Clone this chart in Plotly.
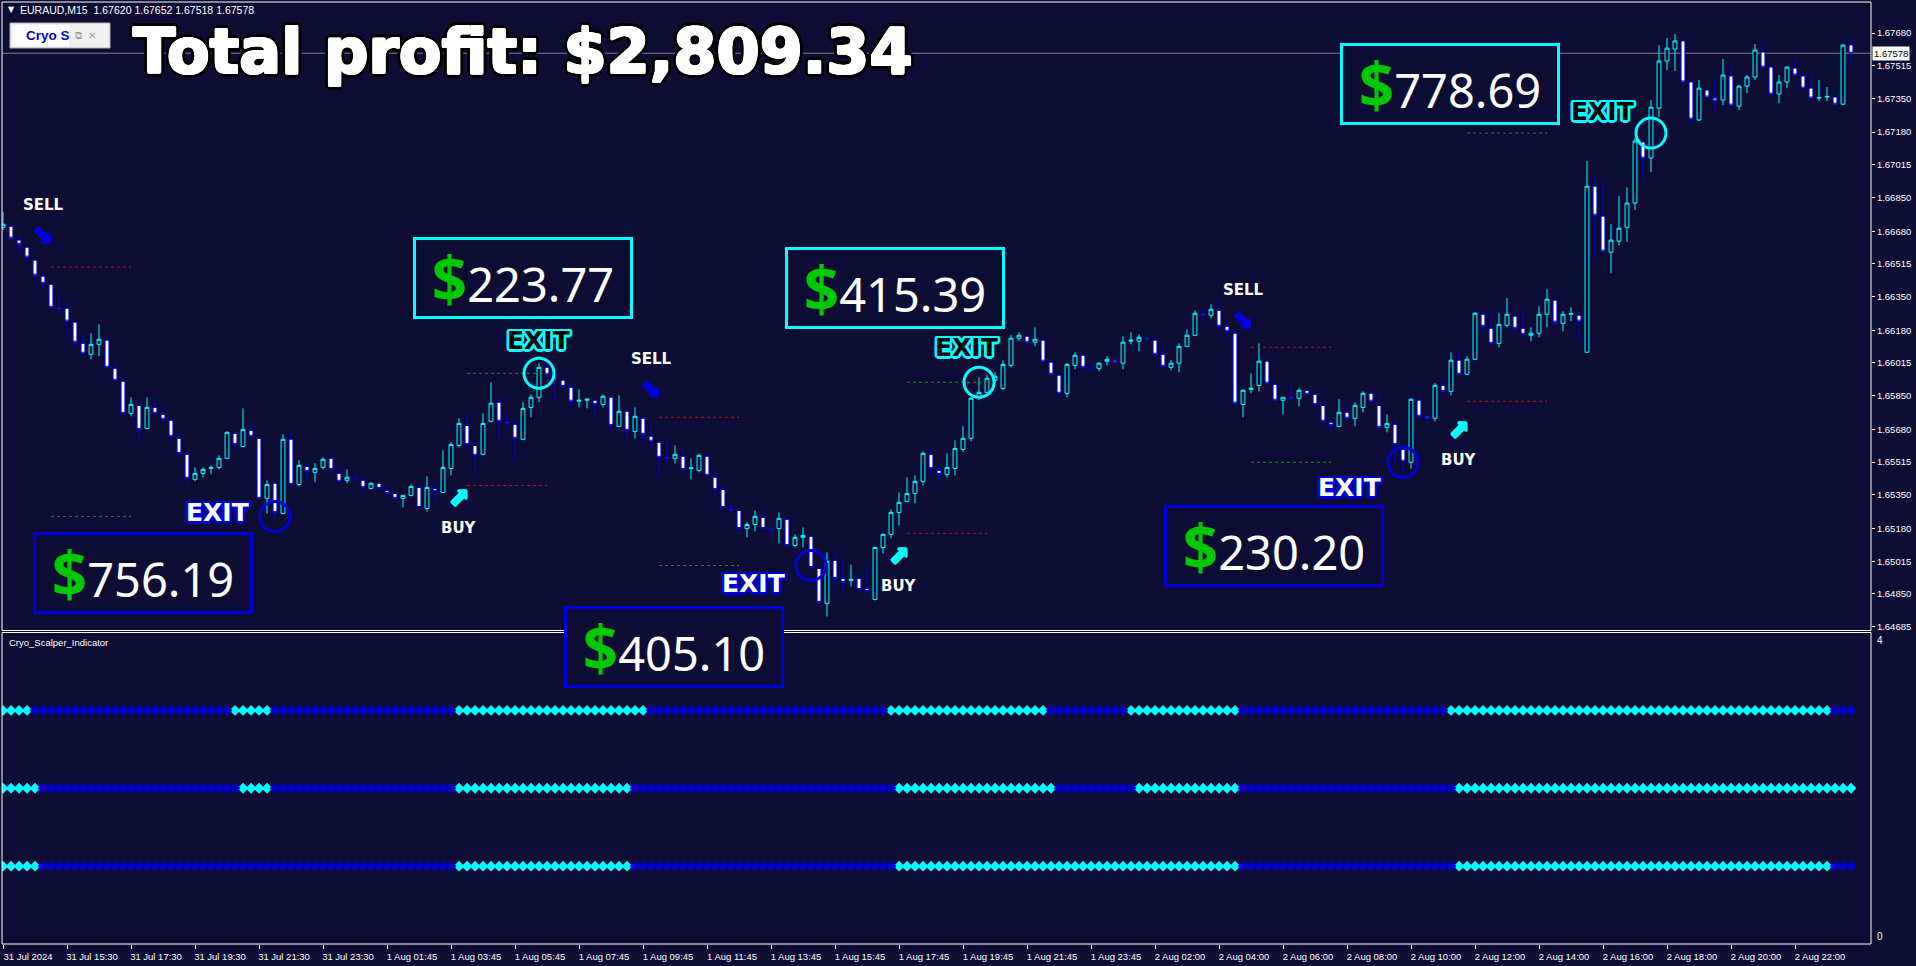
import math
import plotly.graph_objects as go

# ---------------- DATA ----------------
time_labels = ["31 Jul 2024", "31 Jul 15:30", "31 Jul 17:30", "31 Jul 19:30", "31 Jul 21:30", "31 Jul 23:30",
               "1 Aug 01:45", "1 Aug 03:45", "1 Aug 05:45", "1 Aug 07:45", "1 Aug 09:45", "1 Aug 11:45",
               "1 Aug 13:45", "1 Aug 15:45", "1 Aug 17:45", "1 Aug 19:45", "1 Aug 21:45", "1 Aug 23:45",
               "2 Aug 02:00", "2 Aug 04:00", "2 Aug 06:00", "2 Aug 08:00", "2 Aug 10:00", "2 Aug 12:00",
               "2 Aug 14:00", "2 Aug 16:00", "2 Aug 18:00", "2 Aug 20:00", "2 Aug 22:00"]
bars_per_label = 8

price_ticks = [1.67680, 1.67515, 1.67350, 1.67180, 1.67015, 1.66850, 1.66680, 1.66515, 1.66350, 1.66180,
               1.66015, 1.65850, 1.65680, 1.65515, 1.65350, 1.65180, 1.65015, 1.64850, 1.64685]

ohlc = [
    (1.66700, 1.66776, 1.66685, 1.66715), (1.66705, 1.66726, 1.66640, 1.66645), (1.66635, 1.66660, 1.66569, 1.66614),
    (1.66599, 1.66609, 1.66524, 1.66549), (1.66534, 1.66539, 1.66453, 1.66458), (1.66453, 1.66463, 1.66387, 1.66417),
    (1.66412, 1.66417, 1.66291, 1.66296), (1.66291, 1.66362, 1.66266, 1.66286), (1.66291, 1.66322, 1.66165, 1.66226),
    (1.66221, 1.66221, 1.66094, 1.66120), (1.66114, 1.66155, 1.66039, 1.66064), (1.66059, 1.66165, 1.66034, 1.66109),
    (1.66109, 1.66210, 1.66049, 1.66135), (1.66130, 1.66135, 1.65993, 1.65993), (1.65988, 1.66014, 1.65923, 1.65928),
    (1.65923, 1.65928, 1.65761, 1.65761), (1.65761, 1.65842, 1.65746, 1.65806), (1.65801, 1.65827, 1.65630, 1.65680),
    (1.65685, 1.65842, 1.65680, 1.65791), (1.65791, 1.65842, 1.65761, 1.65761), (1.65756, 1.65796, 1.65726, 1.65731),
    (1.65726, 1.65731, 1.65610, 1.65645), (1.65635, 1.65660, 1.65554, 1.65559), (1.65554, 1.65574, 1.65397, 1.65433),
    (1.65428, 1.65488, 1.65418, 1.65458), (1.65458, 1.65488, 1.65438, 1.65478), (1.65483, 1.65498, 1.65453, 1.65488),
    (1.65488, 1.65549, 1.65478, 1.65534), (1.65534, 1.65670, 1.65529, 1.65665), (1.65660, 1.65665, 1.65574, 1.65604),
    (1.65594, 1.65786, 1.65589, 1.65680), (1.65675, 1.65721, 1.65640, 1.65645), (1.65635, 1.65640, 1.65327, 1.65332),
    (1.65332, 1.65423, 1.65256, 1.65402), (1.65408, 1.65408, 1.65231, 1.65261), (1.65256, 1.65655, 1.65251, 1.65630),
    (1.65630, 1.65665, 1.65392, 1.65402), (1.65402, 1.65524, 1.65392, 1.65498), (1.65493, 1.65509, 1.65408, 1.65468),
    (1.65463, 1.65509, 1.65413, 1.65483), (1.65488, 1.65539, 1.65478, 1.65529), (1.65534, 1.65539, 1.65463, 1.65478),
    (1.65458, 1.65488, 1.65413, 1.65418), (1.65423, 1.65478, 1.65408, 1.65438), (1.65433, 1.65448, 1.65408, 1.65433),
    (1.65423, 1.65443, 1.65372, 1.65387), (1.65382, 1.65413, 1.65377, 1.65408), (1.65408, 1.65413, 1.65377, 1.65382),
    (1.65372, 1.65392, 1.65357, 1.65357), (1.65357, 1.65367, 1.65332, 1.65332), (1.65332, 1.65347, 1.65286, 1.65347),
    (1.65347, 1.65402, 1.65342, 1.65392), (1.65387, 1.65392, 1.65286, 1.65286), (1.65281, 1.65443, 1.65266, 1.65387),
    (1.65382, 1.65413, 1.65312, 1.65367), (1.65362, 1.65574, 1.65362, 1.65488), (1.65483, 1.65615, 1.65448, 1.65604),
    (1.65599, 1.65736, 1.65589, 1.65710), (1.65700, 1.65761, 1.65599, 1.65604), (1.65599, 1.65625, 1.65453, 1.65549),
    (1.65554, 1.65761, 1.65549, 1.65710), (1.65721, 1.65918, 1.65716, 1.65812), (1.65817, 1.65837, 1.65610, 1.65721),
    (1.65716, 1.65766, 1.65685, 1.65710), (1.65705, 1.65726, 1.65524, 1.65635), (1.65630, 1.65817, 1.65625, 1.65786),
    (1.65791, 1.65857, 1.65741, 1.65842), (1.65842, 1.66014, 1.65817, 1.65993), (1.65993, 1.65998, 1.65938, 1.65958),
    (1.65943, 1.65963, 1.65827, 1.65933), (1.65928, 1.65943, 1.65887, 1.65897), (1.65892, 1.65907, 1.65791, 1.65822),
    (1.65822, 1.65882, 1.65791, 1.65827), (1.65827, 1.65837, 1.65786, 1.65832), (1.65827, 1.65837, 1.65741, 1.65806),
    (1.65806, 1.65857, 1.65791, 1.65847), (1.65842, 1.65847, 1.65675, 1.65700), (1.65695, 1.65852, 1.65690, 1.65771),
    (1.65771, 1.65776, 1.65625, 1.65675), (1.65670, 1.65791, 1.65635, 1.65746), (1.65736, 1.65746, 1.65610, 1.65655),
    (1.65645, 1.65705, 1.65589, 1.65620), (1.65615, 1.65620, 1.65443, 1.65539), (1.65539, 1.65625, 1.65498, 1.65534),
    (1.65534, 1.65599, 1.65509, 1.65554), (1.65544, 1.65584, 1.65473, 1.65478), (1.65483, 1.65534, 1.65428, 1.65485),
    (1.65473, 1.65559, 1.65463, 1.65549), (1.65544, 1.65549, 1.65448, 1.65448), (1.65438, 1.65478, 1.65347, 1.65377),
    (1.65377, 1.65397, 1.65271, 1.65286), (1.65281, 1.65301, 1.65261, 1.65271), (1.65271, 1.65276, 1.65150, 1.65180),
    (1.65180, 1.65211, 1.65135, 1.65200), (1.65200, 1.65271, 1.65165, 1.65241), (1.65236, 1.65281, 1.65175, 1.65180),
    (1.65180, 1.65180, 1.65135, 1.65175), (1.65180, 1.65261, 1.65104, 1.65231), (1.65226, 1.65231, 1.65089, 1.65094),
    (1.65094, 1.65150, 1.65084, 1.65135), (1.65135, 1.65185, 1.65084, 1.65145), (1.65140, 1.65145, 1.64978, 1.64983),
    (1.64978, 1.64983, 1.64802, 1.64807), (1.64802, 1.65059, 1.64736, 1.65014), (1.65019, 1.65054, 1.64892, 1.64928),
    (1.64928, 1.65029, 1.64852, 1.64908), (1.64918, 1.64998, 1.64887, 1.64923), (1.64928, 1.64958, 1.64872, 1.64872),
    (1.64877, 1.64993, 1.64842, 1.64862), (1.64822, 1.65089, 1.64817, 1.65084), (1.65084, 1.65155, 1.65054, 1.65150),
    (1.65150, 1.65276, 1.65130, 1.65261), (1.65261, 1.65362, 1.65195, 1.65312), (1.65317, 1.65438, 1.65312, 1.65357),
    (1.65357, 1.65448, 1.65307, 1.65418), (1.65418, 1.65569, 1.65397, 1.65559), (1.65554, 1.65589, 1.65448, 1.65483),
    (1.65473, 1.65503, 1.65413, 1.65453), (1.65453, 1.65559, 1.65438, 1.65488), (1.65483, 1.65625, 1.65448, 1.65584),
    (1.65579, 1.65695, 1.65564, 1.65635), (1.65635, 1.65842, 1.65620, 1.65837), (1.65842, 1.65943, 1.65827, 1.65867),
    (1.65867, 1.65953, 1.65862, 1.65938), (1.65928, 1.65968, 1.65913, 1.65948), (1.65887, 1.66029, 1.65877, 1.66008),
    (1.66003, 1.66155, 1.65993, 1.66140), (1.66140, 1.66170, 1.66125, 1.66155), (1.66150, 1.66155, 1.66099, 1.66120),
    (1.66120, 1.66195, 1.66099, 1.66135), (1.66130, 1.66135, 1.66019, 1.66024), (1.66019, 1.66029, 1.65953, 1.65958),
    (1.65953, 1.65963, 1.65857, 1.65862), (1.65862, 1.66014, 1.65842, 1.66008), (1.66003, 1.66069, 1.65983, 1.66054),
    (1.66054, 1.66059, 1.65973, 1.65993), (1.65988, 1.66019, 1.65983, 1.65986), (1.65988, 1.66019, 1.65973, 1.66014),
    (1.66024, 1.66049, 1.66003, 1.66034), (1.66029, 1.66034, 1.66014, 1.66019), (1.66014, 1.66150, 1.65983, 1.66120),
    (1.66125, 1.66170, 1.66109, 1.66130), (1.66125, 1.66160, 1.66074, 1.66145), (1.66140, 1.66145, 1.66130, 1.66135),
    (1.66130, 1.66150, 1.66054, 1.66059), (1.66059, 1.66104, 1.65993, 1.65998), (1.65993, 1.66029, 1.65978, 1.66014),
    (1.66014, 1.66114, 1.65968, 1.66099), (1.66099, 1.66185, 1.66094, 1.66155), (1.66155, 1.66281, 1.66150, 1.66266),
    (1.66261, 1.66291, 1.66215, 1.66256), (1.66256, 1.66311, 1.66241, 1.66286), (1.66281, 1.66332, 1.66185, 1.66200),
    (1.66200, 1.66205, 1.66130, 1.66175), (1.66165, 1.66180, 1.65806, 1.65812), (1.65806, 1.65882, 1.65741, 1.65877),
    (1.65882, 1.65963, 1.65862, 1.65887), (1.65902, 1.66114, 1.65872, 1.66024), (1.66024, 1.66034, 1.65907, 1.65913),
    (1.65907, 1.65928, 1.65822, 1.65827), (1.65827, 1.65842, 1.65756, 1.65842), (1.65842, 1.65907, 1.65827, 1.65837),
    (1.65837, 1.65887, 1.65796, 1.65877), (1.65877, 1.65882, 1.65852, 1.65857), (1.65857, 1.65862, 1.65796, 1.65806),
    (1.65801, 1.65827, 1.65716, 1.65721), (1.65716, 1.65726, 1.65665, 1.65700), (1.65695, 1.65832, 1.65690, 1.65766),
    (1.65766, 1.65812, 1.65731, 1.65736), (1.65736, 1.65817, 1.65695, 1.65801), (1.65791, 1.65872, 1.65766, 1.65862),
    (1.65862, 1.65867, 1.65817, 1.65822), (1.65801, 1.65857, 1.65690, 1.65690), (1.65690, 1.65756, 1.65665, 1.65710),
    (1.65705, 1.65736, 1.65503, 1.65604), (1.65579, 1.65599, 1.65448, 1.65519), (1.65514, 1.65837, 1.65483, 1.65832),
    (1.65827, 1.65862, 1.65731, 1.65746), (1.65746, 1.65761, 1.65726, 1.65736), (1.65736, 1.65913, 1.65721, 1.65902),
    (1.65902, 1.65943, 1.65867, 1.65872), (1.65872, 1.66069, 1.65852, 1.66029), (1.66029, 1.66089, 1.65953, 1.65958),
    (1.65958, 1.66049, 1.65953, 1.66034), (1.66034, 1.66271, 1.66029, 1.66266), (1.66261, 1.66281, 1.66170, 1.66200),
    (1.66190, 1.66266, 1.66114, 1.66114), (1.66114, 1.66266, 1.66094, 1.66210), (1.66205, 1.66342, 1.66195, 1.66261),
    (1.66251, 1.66256, 1.66170, 1.66190), (1.66190, 1.66281, 1.66145, 1.66160), (1.66155, 1.66195, 1.66125, 1.66165),
    (1.66165, 1.66301, 1.66145, 1.66261), (1.66261, 1.66387, 1.66195, 1.66337), (1.66332, 1.66342, 1.66195, 1.66221),
    (1.66215, 1.66276, 1.66175, 1.66261), (1.66261, 1.66296, 1.66226, 1.66264), (1.66256, 1.66286, 1.66120, 1.66226),
    (1.66069, 1.67034, 1.66069, 1.66907), (1.66907, 1.66968, 1.66549, 1.66761), (1.66756, 1.66928, 1.66574, 1.66579),
    (1.66574, 1.66715, 1.66468, 1.66635), (1.66630, 1.66857, 1.66609, 1.66695), (1.66700, 1.66902, 1.66625, 1.66822),
    (1.66822, 1.67150, 1.66786, 1.67135), (1.67130, 1.67135, 1.66928, 1.67049), (1.67049, 1.67342, 1.66978, 1.67306),
    (1.67301, 1.67619, 1.67256, 1.67539), (1.67539, 1.67655, 1.67493, 1.67604), (1.67599, 1.67675, 1.67488, 1.67640),
    (1.67640, 1.67645, 1.67428, 1.67433), (1.67433, 1.67438, 1.67226, 1.67246), (1.67241, 1.67443, 1.67236, 1.67402),
    (1.67392, 1.67402, 1.67347, 1.67357), (1.67352, 1.67443, 1.67276, 1.67337), (1.67342, 1.67549, 1.67316, 1.67468),
    (1.67463, 1.67513, 1.67311, 1.67316), (1.67311, 1.67417, 1.67291, 1.67412), (1.67412, 1.67468, 1.67377, 1.67458),
    (1.67458, 1.67624, 1.67443, 1.67594), (1.67584, 1.67624, 1.67498, 1.67508), (1.67508, 1.67513, 1.67357, 1.67372),
    (1.67372, 1.67468, 1.67326, 1.67433), (1.67433, 1.67513, 1.67402, 1.67508), (1.67503, 1.67554, 1.67463, 1.67468),
    (1.67463, 1.67483, 1.67397, 1.67402), (1.67402, 1.67468, 1.67342, 1.67352), (1.67352, 1.67443, 1.67337, 1.67354),
    (1.67357, 1.67407, 1.67337, 1.67360), (1.67357, 1.67367, 1.67316, 1.67321), (1.67321, 1.67624, 1.67316, 1.67619),
    (1.67620, 1.67652, 1.67518, 1.67578),
]
open_ = [r[0] for r in ohlc]
high = [r[1] for r in ohlc]
low = [r[2] for r in ohlc]
close = [r[3] for r in ohlc]

# indicator rows: runs of (state, count); 1 = up (cyan), 0 = down (blue)
ind_row_levels = [3, 2, 1]
ind_row_runs = [
    [(1, 4), (0, 25), (1, 5), (0, 23), (1, 24), (0, 30), (1, 20), (0, 10), (1, 14), (0, 26), (1, 48), (0, 3)],
    [(1, 5), (0, 25), (1, 4), (0, 23), (1, 22), (0, 33), (1, 20), (0, 10), (1, 13), (0, 27), (1, 50)],
    [(1, 5), (0, 52), (1, 22), (0, 33), (1, 43), (0, 27), (1, 47), (0, 3)],
]

# trades
sig_bar = [5, 57, 81, 112, 155, 182]
sig_dir = ["SELL", "BUY", "SELL", "BUY", "SELL", "BUY"]
sig_price = [1.66665, 1.65342, 1.65887, 1.65049, 1.66236, 1.65685]
sl_level = [1.66499, 1.65397, 1.65741, 1.65155, 1.66094, 1.65822]
tp_level = [1.65241, 1.65963, 1.64993, 1.65918, 1.65514, 1.67175]
level_start = [6, 58, 82, 113, 156, 183]
level_end = [16, 68, 92, 123, 166, 193]
exit_bar = [34, 67, 101, 122, 175, 206]
profit = [756.19, 223.77, 405.10, 415.39, 230.20, 778.69]

# ---------------- STYLE / LAYOUT ----------------
W, H = 1916, 966
BG = "#0d0c35"
CYAN = "#00ffff"
BLUE = "#0000dd"
PL, PR, PT, PB = 2, 1871, 2, 944  # plot area in px


def px(x):
    return (x - PL) / (PR - PL)


def py(y):
    return (PB - y) / (PB - PT)


def outline(color, w, n=16):
    parts = []
    for k in range(n):
        a = 2 * math.pi * k / n
        parts.append(f"{w * math.cos(a):.1f}px {w * math.sin(a):.1f}px 0 {color}")
    return parts


def pann(x_px, y_px, text, font, xanchor="center", yanchor="middle", **kw):
    d = dict(x=px(x_px), y=py(y_px), xref="paper", yref="paper", xanchor=xanchor, yanchor=yanchor,
             showarrow=False, text=text, font=font)
    d.update(kw)
    return d


x = list(range(len(ohlc)))
fig = go.Figure()

fig.add_trace(go.Candlestick(
    x=x, open=open_, high=high, low=low, close=close,
    increasing=dict(line=dict(color=CYAN, width=1), fillcolor=BG),
    decreasing=dict(line=dict(color=BLUE, width=1), fillcolor="#ffffff"),
    whiskerwidth=0, hoverinfo="skip", showlegend=False, xaxis="x", yaxis="y",
))

# stop / target dashed levels
for levels, col in ((sl_level, "#e00000"), (tp_level, "#00a000")):
    lx, ly = [], []
    for s, e, lv in zip(level_start, level_end, levels):
        lx += [s, e, None]
        ly += [lv, lv, None]
    fig.add_trace(go.Scatter(x=lx, y=ly, mode="lines", line=dict(color=col, width=1, dash="3px,3px"),
                             hoverinfo="skip", showlegend=False, xaxis="x", yaxis="y"))

# exit circles
fig.add_trace(go.Scatter(
    x=exit_bar, y=tp_level, mode="markers",
    marker=dict(symbol="circle-open", size=30,
                color=[BLUE if d == "SELL" else CYAN for d in sig_dir], line=dict(width=3)),
    hoverinfo="skip", showlegend=False, xaxis="x", yaxis="y"))

# indicator diamonds
for state, col in ((1, CYAN), (0, "#0000cc")):
    dx, dy = [], []
    for lvl, runs in zip(ind_row_levels, ind_row_runs):
        i = 0
        for st, n in runs:
            for k in range(n):
                if st == state:
                    dx.append(i + k)
                    dy.append(lvl)
            i += n
    fig.add_trace(go.Scatter(x=dx, y=dy, mode="markers",
                             marker=dict(symbol="diamond", size=8.3, color=col, line=dict(width=0)),
                             hoverinfo="skip", showlegend=False, xaxis="x", yaxis="y2"))

ann = []
# signal arrows and labels
for b, d, p in zip(sig_bar, sig_dir, sig_price):
    col = BLUE if d == "SELL" else CYAN
    ann.append(dict(x=b, y=p, xref="x", yref="y", showarrow=False, xanchor="center", yanchor="middle",
                    text="⬊" if d == "SELL" else "⬈",
                    font=dict(family="DejaVu Sans", size=25, color=col, shadow=", ".join(outline(col, 0.7, 8)))))
    ann.append(dict(x=b, y=p, xref="x", yref="y", showarrow=False, xanchor="center", yanchor="middle",
                    yshift=29 if d == "SELL" else -32,
                    text=d, font=dict(family="DejaVu Sans", size=15, color="white", weight=700)))

# EXIT labels (pixel positions of the label centres)
exit_label_px = [(217, 512), (538, 340), (753, 583), (966, 347), (1349, 487), (1602, 112)]
for (ex, ey), d in zip(exit_label_px, sig_dir):
    if d == "SELL":
        f = dict(family="DejaVu Sans", size=25, color="white", weight=700,
                 shadow=", ".join(outline(BLUE, 2.5)))
    else:
        f = dict(family="DejaVu Sans", size=25, color="#000000", weight=700,
                 shadow=", ".join(outline(CYAN, 2.5)))
    ann.append(pann(ex, ey, "EXIT", f))

# profit boxes
box_px = [(142.5, 572.5), (522.5, 278), (674, 646.5), (895, 287.5), (1273.5, 546), (1449.5, 83.5)]
for (bx, by), d, pr in zip(box_px, sig_dir, profit):
    ann.append(pann(
        bx, by,
        (f"<span style='color:#00c800;font-size:62px;font-weight:bold'>$</span>"
         f"<span style='font-size:47px'>{pr:.2f}</span>"),
        dict(family="Noto Sans", size=47, color="white"),
        width=214, height=76, borderwidth=3, borderpad=0,
        bordercolor=BLUE if d == "SELL" else CYAN, bgcolor=BG, align="center", valign="middle"))

# title (heavy white text with black outline)
title_shadow = ", ".join(outline("#ffffff", 1.2, 8) + outline("#000000", 4.0, 20))
ann.append(pann(131, 52, f"Total profit: ${sum(profit):,.2f}",
                dict(family="DejaVu Sans", size=62, color="white", weight=800, shadow=title_shadow),
                xanchor="left"))

# header text
ann.append(pann(6, 10, "▼", dict(family="DejaVu Sans", size=8, color="white"), xanchor="left"))
ann.append(pann(18, 10, f"EURAUD,M15  {open_[-1]:.5f} {high[-1]:.5f} {low[-1]:.5f} {close[-1]:.5f}",
                dict(family="Liberation Sans", size=10.5, color="white"), xanchor="left"))
# Cryo S widget
ann.append(pann(24, 36, "<b>Cryo S</b>", dict(family="Liberation Sans", size=13.5, color="#0000d0"),
                xanchor="left"))
ann.append(pann(73, 36, "⧉  ✕", dict(family="DejaVu Sans", size=10, color="#a0a0a0"), xanchor="left"))

# indicator title and scale
ann.append(pann(7, 642, "Cryo_Scalper_Indicator", dict(family="Liberation Sans", size=9.5, color="white"),
                xanchor="left"))
ann.append(dict(x=1, y=4, xref="paper", yref="y2", xanchor="left", yanchor="top", xshift=4, showarrow=False,
                text="4", font=dict(family="Liberation Sans", size=10, color="white")))
ann.append(dict(x=1, y=0, xref="paper", yref="y2", xanchor="left", yanchor="bottom", xshift=4, showarrow=False,
                text="0", font=dict(family="Liberation Sans", size=10, color="white")))

# current price tag
ann.append(dict(x=1, y=close[-1], xref="paper", yref="y", xanchor="left", yanchor="middle", xshift=1,
                showarrow=False, text=f"{close[-1]:.5f}", bgcolor="white", borderpad=1,
                font=dict(family="Liberation Sans", size=9.5, color="#000000")))

main_bottom = py(630.5)
ind_top = py(632.5)
shapes = [
    dict(type="line", xref="paper", yref="y", x0=0, x1=1, y0=close[-1], y1=close[-1],
         line=dict(color="#808080", width=1), layer="below"),
    dict(type="rect", xref="paper", yref="paper", x0=0, x1=1, y0=main_bottom, y1=1,
         line=dict(color="white", width=1)),
    dict(type="rect", xref="paper", yref="paper", x0=0, x1=1, y0=0, y1=ind_top,
         line=dict(color="white", width=1)),
    dict(type="rect", xref="paper", yref="paper", x0=px(10), x1=px(110), y0=py(48), y1=py(23),
         line=dict(color="#b0b0b0", width=1), fillcolor="#f0f0f0"),
    dict(type="rect", xref="paper", yref="paper", x0=px(12), x1=px(69), y0=py(46), y1=py(25),
         line=dict(width=0), fillcolor="#ffffff"),
]

fig.update_layout(
    width=W, height=H, margin=dict(l=PL, r=W - PR, t=PT, b=H - PB),
    paper_bgcolor=BG, plot_bgcolor=BG,
    font=dict(family="Liberation Sans", color="white"),
    showlegend=False, annotations=ann, shapes=shapes,
    xaxis=dict(domain=[0, 1], anchor="y2", range=[-0.125, 233.5], rangeslider=dict(visible=False),
               tickmode="array", tickvals=[i * bars_per_label for i in range(len(time_labels))],
               ticktext=time_labels, ticks="outside", ticklen=4, tickcolor="white",
               tickfont=dict(family="Liberation Sans", size=9.5, color="white"), ticklabelshift=25,
               showgrid=False, zeroline=False, showline=False, fixedrange=True),
    yaxis=dict(domain=[main_bottom, 1], side="right", range=[1.646652, 1.678365],
               tickmode="array", tickvals=price_ticks, ticktext=[f"{v:.5f}" for v in price_ticks],
               ticks="outside", ticklen=3, tickcolor="white",
               tickfont=dict(family="Liberation Sans", size=9.5, color="white"),
               showgrid=False, zeroline=False, showline=False, fixedrange=True),
    yaxis2=dict(domain=[0, ind_top], range=[0, 4], showticklabels=False, ticks="",
                showgrid=False, zeroline=False, showline=False, fixedrange=True),
)

fig.write_html("out.html", config={"displayModeBar": False},
               post_script="document.body.style.margin='0';document.body.style.overflow='hidden';")
